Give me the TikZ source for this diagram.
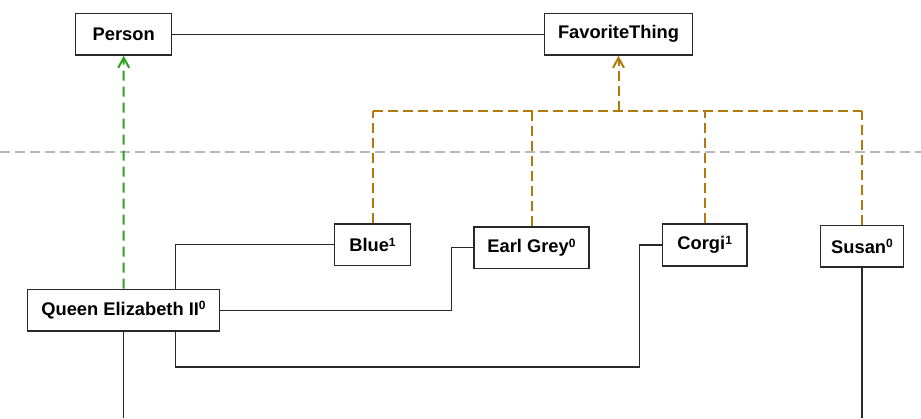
\documentclass[tikz,border=0pt]{standalone}
\usepackage{fontspec}
\setmainfont{Liberation Sans}
\usetikzlibrary{arrows.meta}
\definecolor{gencolor}{RGB}{44,162,30}
\definecolor{instcolor}{RGB}{176,122,12}
\definecolor{linkcolor}{RGB}{40,40,40}
\definecolor{layercolor}{RGB}{184,184,184}
% small raised index after a name
\newcommand{\idx}[1]{\raisebox{0.3em}{\fontsize{12}{12}\selectfont\bfseries #1}}
\tikzset{
  entity/.style={draw=linkcolor, line width=1.4pt, fill=white, inner sep=0pt,
    minimum height=41.7pt,
    font=\fontsize{18.3}{22}\selectfont\bfseries},
  link/.style={draw=linkcolor, line width=1.1pt},
  barb/.style={-{Straight Barb[length=10pt,width=11pt,line width=2pt]}},
  genlink/.style={draw=gencolor, line width=2pt, dash pattern=on 10pt off 6pt, barb},
  instlink/.style={draw=instcolor, line width=2pt, dash pattern=on 10pt off 5pt},
  layerline/.style={draw=layercolor, line width=2pt, dash pattern=on 10pt off 5pt},
}
\begin{document}
\begin{tikzpicture}[x=1pt, y=-1pt]
\useasboundingbox (0,0) rectangle (921,418);

% layer separator
\coordinate (sepL) at (0,152.3);
\coordinate (sepR) at (921,152.3);
\draw[layerline] (sepL) -- (sepR);

% nodes
\node[entity, minimum width=96pt]    (person) at (123.7,34.2) {Person};
\node[entity, minimum width=148.4pt] (fav)    at (618.5,34.2) {FavoriteThing};
\node[entity, minimum width=75.6pt]  (blue)   at (372.5,244.8) {Blue\idx{1}};
\node[entity, minimum width=115pt]   (earl)   at (531.5,247.7) {Earl Grey\idx{0}};
\node[entity, minimum width=84.7pt]  (corgi)  at (704.7,245) {Corgi\idx{1}};
\node[entity, minimum width=83.4pt]  (susan)  at (862,246.3) {Susan\idx{0}};
\node[entity, minimum width=192.4pt] (queen)  at (123.5,310.2) {Queen Elizabeth II\idx{0}};

% association between the classes
\draw[link] (person.east) -- (fav.west);

% generalisation of the individual
\draw[genlink] (queen.north) -- (person.south);

% instance-of tree
\coordinate (bus) at (fav.south |- 0,110.7);
\coordinate (busL) at (blue.north |- bus);
\coordinate (busR) at (susan.north |- bus);
\draw[instlink] (busL) -- (busR);
\draw[instlink] (blue.north) -- (busL);
\draw[instlink] (earl.north) -- (earl.north |- bus);
\draw[instlink] (corgi.north) -- (corgi.north |- bus);
\draw[instlink] (susan.north) -- (busR);
\draw[instlink, barb] (bus) -- (fav.south);

% links from the queen to her favourite things
\coordinate (qa) at (175.3,0);
\draw[link] (qa |- queen.north) |- (blue.west);
\coordinate (qb) at (451.7,0);
\draw[link] (queen.east) -| (qb |- earl.west) -- (earl.west);
\coordinate (qc) at (639.3,367);
\draw[link] (qa |- queen.south) |- (qc) |- (corgi.west);

% lifelines leaving the picture
\coordinate (qend) at (queen.south |- 0,418);
\coordinate (send) at (susan.south |- 0,418);
\draw[link] (queen.south) -- (qend);
\draw[link] (susan.south) -- (send);
\end{tikzpicture}
\end{document}
